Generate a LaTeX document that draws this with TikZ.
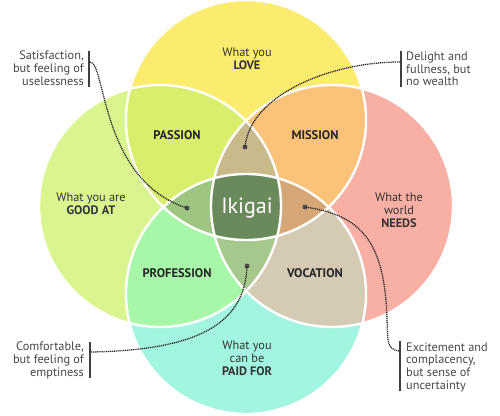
\documentclass[tikz,border=0pt]{standalone}
\usepackage{fontspec}
\setmainfont{PT Sans}
\definecolor{cLove}{HTML}{FBEB6E}
\definecolor{cGood}{HTML}{DAF58F}
\definecolor{cNeeds}{HTML}{F9B0A4}
\definecolor{cPaid}{HTML}{A2F5E0}
\definecolor{cPassion}{HTML}{D9EE6C}
\definecolor{cMission}{HTML}{FBC27A}
\definecolor{cProfession}{HTML}{A8F7A8}
\definecolor{cVocation}{HTML}{D5CBB4}
\definecolor{cTopMid}{HTML}{C8BA8A}
\definecolor{cLeftMid}{HTML}{9EC682}
\definecolor{cRightMid}{HTML}{D5A777}
\definecolor{cBotMid}{HTML}{A6C88C}
\definecolor{cCore}{HTML}{6A8A5B}
% circle outlines of the four sets
\newcommand\setLove{(246,120) circle[radius=120pt]}
\newcommand\setGood{(160,206) circle[radius=121pt]}
\newcommand\setNeeds{(332,206) circle[radius=121pt]}
\newcommand\setPaid{(246,294) circle[radius=120pt]}
\begin{document}
\begin{tikzpicture}[x=1pt,y=-1pt,
  ring/.style={draw=white, line width=2.4pt},
  lbl/.style={font=\bfseries\fontsize{12.5}{13}\selectfont, text=black!85, inner sep=0pt},
  word/.style={font=\fontsize{12.3}{13}\selectfont, text=black!80, align=center, inner sep=0pt},
  note/.style={font=\fontsize{12.3}{12.7}\selectfont, text=black!72, inner sep=0pt},
  bar/.style={draw=black!75, line width=2.2pt},
  leader/.style={draw=black!85, line width=1.3pt, dash pattern=on 1.1pt off 0.8pt},
  dotmark/.style={circle, fill=black!70, inner sep=0pt, minimum size=5pt},
]
\useasboundingbox (0,0) rectangle (500,415);

% base discs
\fill[cLove] \setLove;
\fill[cGood] \setGood;
\fill[cNeeds] \setNeeds;
\fill[cPaid] \setPaid;

% pairwise overlaps
\begin{scope}\clip \setLove; \fill[cPassion] \setGood; \fill[cMission] \setNeeds; \end{scope}
\begin{scope}\clip \setPaid; \fill[cProfession] \setGood; \fill[cVocation] \setNeeds; \end{scope}

% triple overlaps
\begin{scope}\clip \setLove; \clip \setGood; \fill[cTopMid] \setNeeds; \fill[cLeftMid] \setPaid; \end{scope}
\begin{scope}\clip \setPaid; \clip \setNeeds; \fill[cRightMid] \setLove; \fill[cBotMid] \setGood; \end{scope}

% all four
\begin{scope}\clip \setLove; \clip \setGood; \clip \setNeeds; \fill[cCore] \setPaid; \end{scope}

% white outlines
\draw[ring] \setLove;
\draw[ring] \setGood;
\draw[ring] \setNeeds;
\draw[ring] \setPaid;

% set names
\node[word] (love) at (247,58.5) {What you\\\textbf{LOVE}};
\node[word] (good) at (91,203.5) {What you are\\\textbf{GOOD AT}};
\node[word] (needs) at (399,210) {What the\\world\\\textbf{NEEDS}};
\node[word] (paid) at (247,358) {What you\\can be\\\textbf{PAID FOR}};

% overlap names
\node[lbl] (passion) at (177,135) {PASSION};
\node[lbl] (mission) at (315,135) {MISSION};
\node[lbl] (profession) at (177,273) {PROFESSION};
\node[lbl] (vocation) at (315,273) {VOCATION};
\node[font=\fontsize{22}{24}\selectfont, text=white, inner sep=0pt] (ikigai) at (247,208) {Ikigai};

% callout texts
\node[note, anchor=east, align=right] (n1) at (84,68) {Satisfaction,\\but feeling of\\uselessness};
\node[note, anchor=west, align=left] (n2) at (406,69) {Delight and\\fullness, but\\no wealth};
\node[note, anchor=east, align=right] (n3) at (84,360.5) {Comfortable,\\but feeling of\\emptiness};
\node[note, anchor=west, align=left] (n4) at (406,367) {Excitement and\\complacency,\\but sense of\\uncertainty};

% callout bars
\coordinate (b1t) at (89,51); \coordinate (b1b) at (89,87);
\coordinate (b2t) at (401,51); \coordinate (b2b) at (401,87);
\coordinate (b3t) at (90,342); \coordinate (b3b) at (90,378);
\coordinate (b4t) at (400,341); \coordinate (b4b) at (400,391);
\draw[bar] (b1t) -- (b1b);
\draw[bar] (b2t) -- (b2b);
\draw[bar] (b3t) -- (b3b);
\draw[bar] (b4t) -- (b4b);

% leader anchors and end dots
\coordinate (s1) at (90,62);
\coordinate (s2) at (400,62);
\coordinate (s3) at (91,352);
\coordinate (s4) at (399,351);
\node[dotmark] (d1) at (187,208) {};
\node[dotmark] (d2) at (245,147) {};
\node[dotmark] (d3) at (247,266) {};
\node[dotmark] (d4) at (305,207) {};

\draw[leader] (s1) .. controls (106,62) and (100,180) .. (d1.center);
\draw[leader] (s2) .. controls (330,62) and (250,95) .. (d2.center);
\draw[leader] (s3) .. controls (205,350) and (245,320) .. (d3.center);
\draw[leader] (s4) .. controls (386,349) and (388,340) .. (387,320)
  .. controls (385,240) and (360,215) .. (d4.center);
\end{tikzpicture}
\end{document}
